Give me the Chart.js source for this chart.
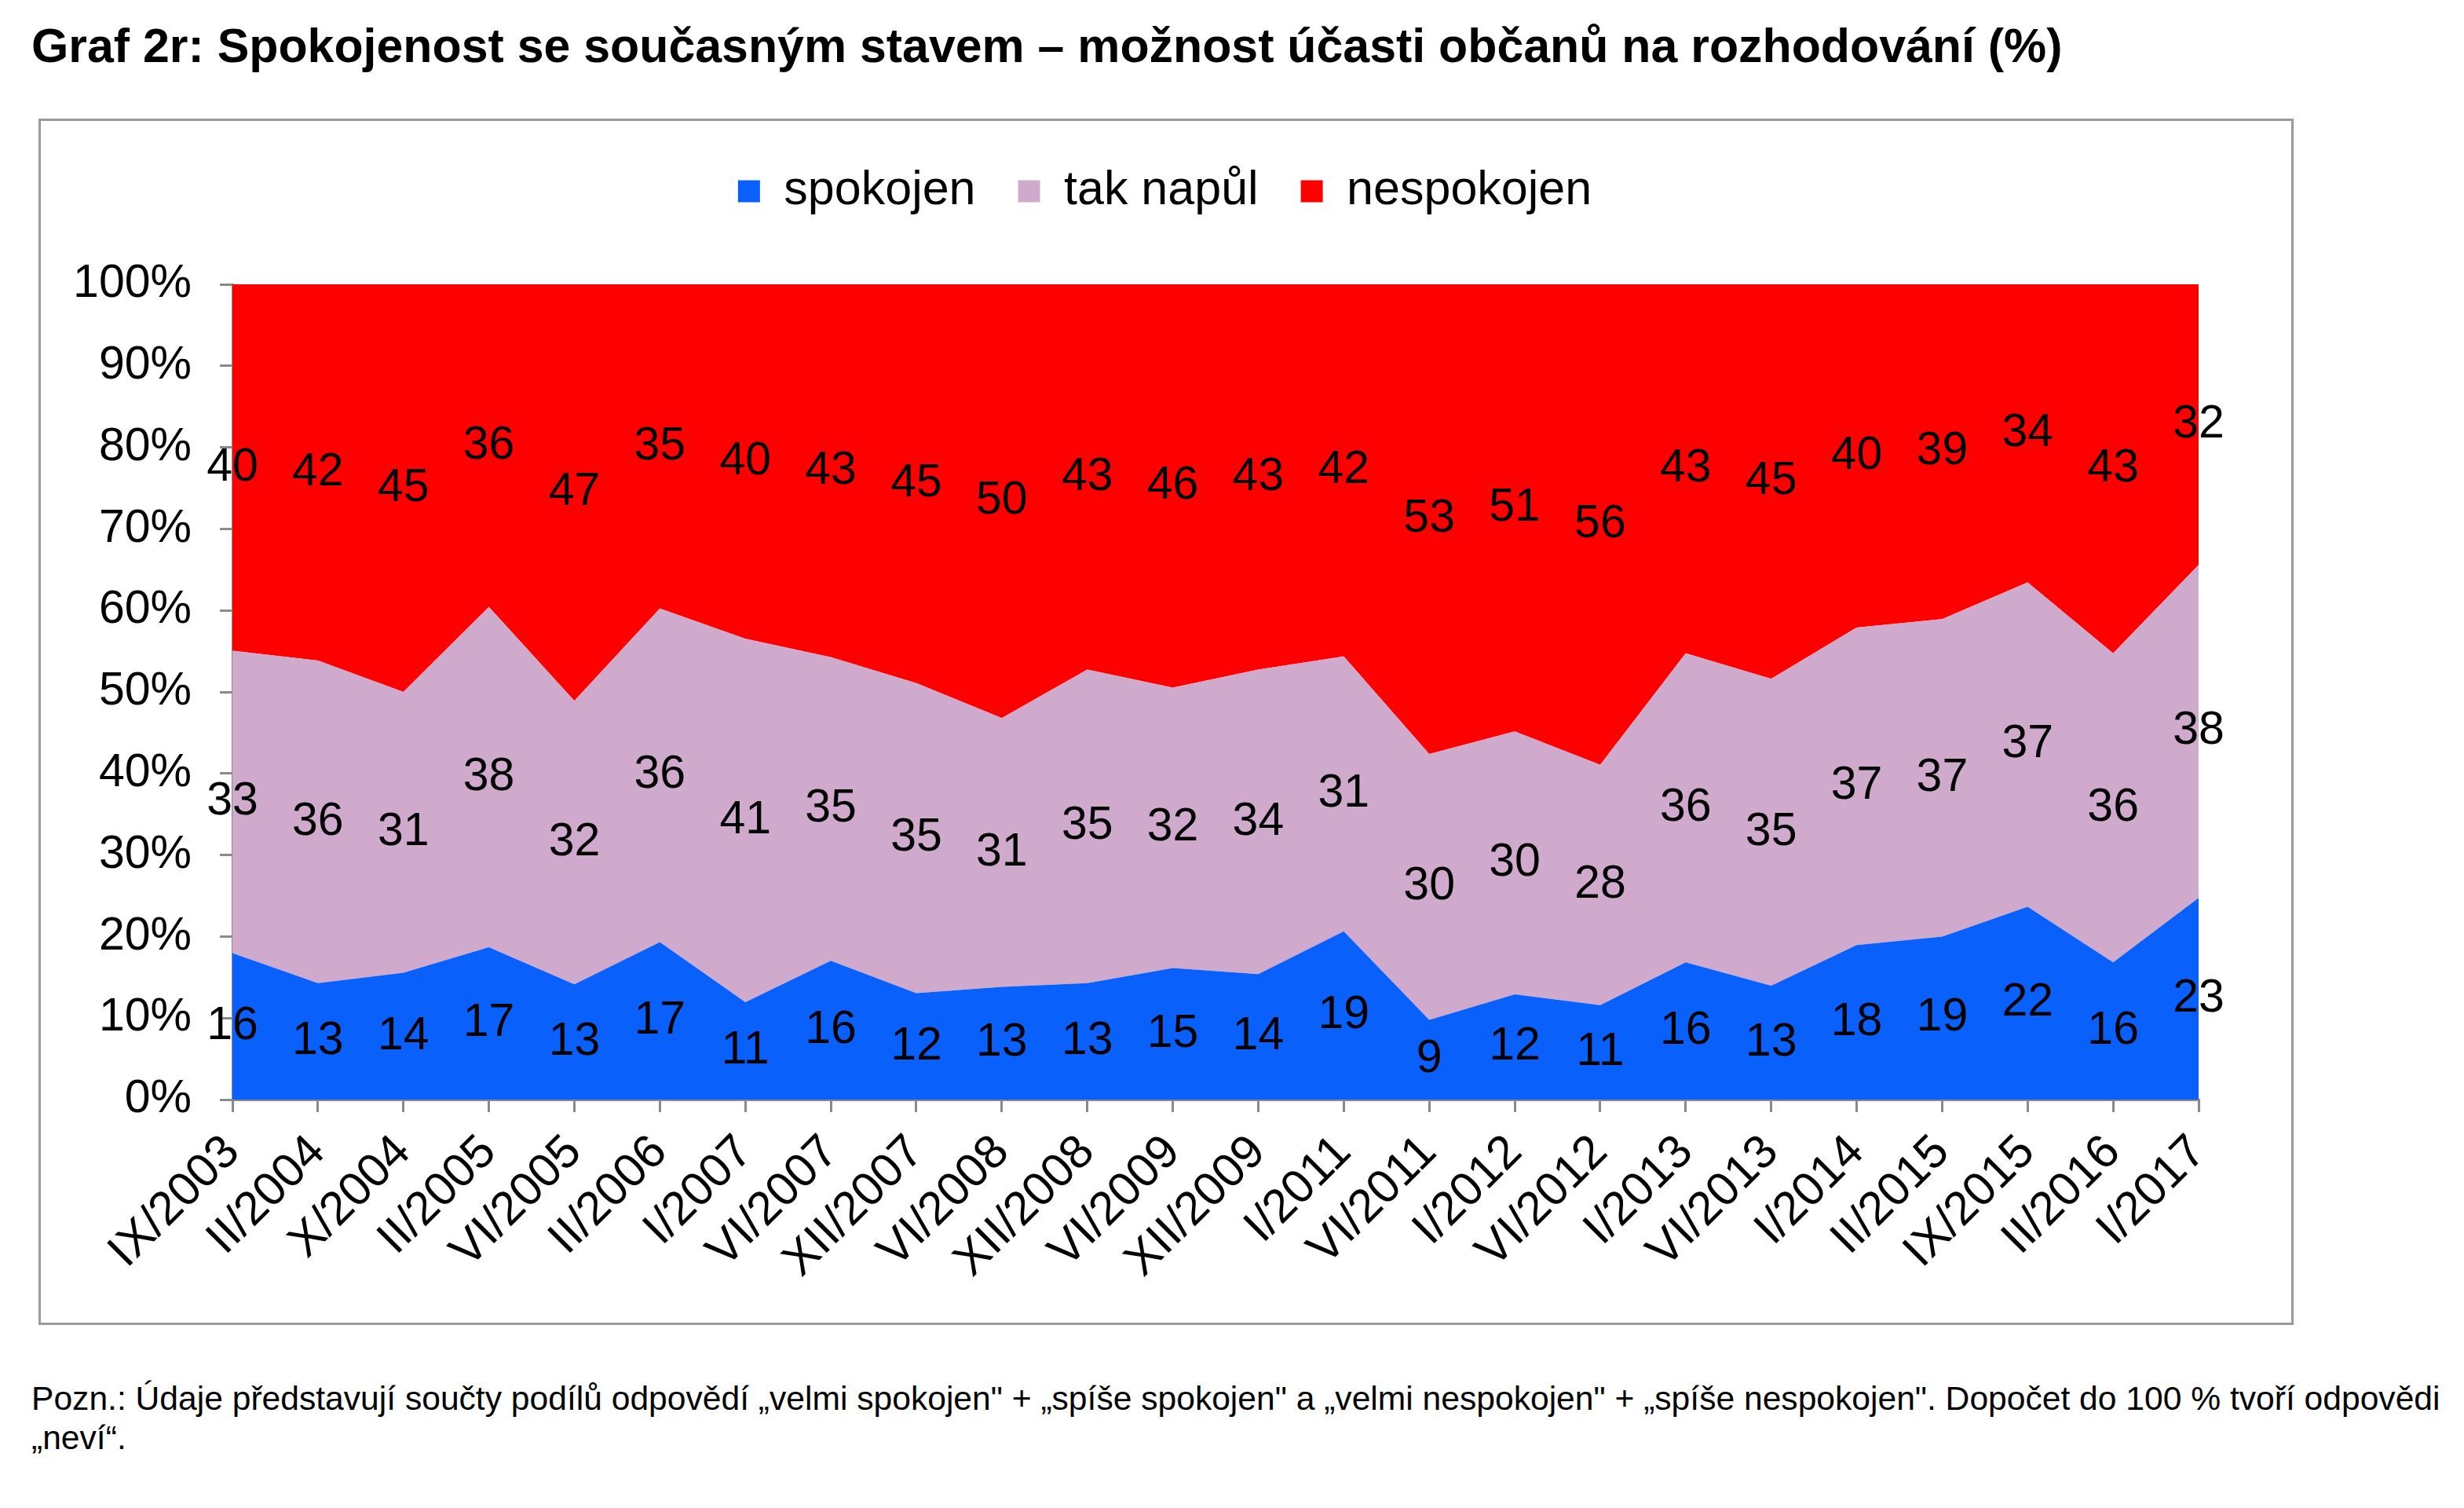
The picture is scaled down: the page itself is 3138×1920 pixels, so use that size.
<!DOCTYPE html>
<html>
<head>
<meta charset="utf-8">
<script src="https://cdn.jsdelivr.net/npm/chart.js@4.4.1/dist/chart.umd.min.js"></script>
<style>
html,body{margin:0;padding:0;background:#fff;width:3138px;height:1920px;overflow:hidden;font-family:"Liberation Sans",Arial,sans-serif;color:#000;}
#title{position:absolute;left:40px;top:28px;font-weight:bold;font-size:60.85px;line-height:60px;white-space:nowrap;}
#frame{position:absolute;left:49px;top:151px;width:2866px;height:1530px;border:3px solid #9a9a9a;}
#chartBox{position:absolute;left:52px;top:159px;width:2863px;height:1522px;}
#note{position:absolute;left:40px;top:1755px;font-size:42.6px;line-height:50px;white-space:nowrap;}
</style>
</head>
<body>
<div id="title">Graf 2r: Spokojenost se současným stavem – možnost účasti občanů na rozhodování (%)</div>
<div id="frame"></div>
<div id="chartBox"><canvas id="c" width="2863" height="1522"></canvas></div>
<div id="note">Pozn.: Údaje představují součty podílů odpovědí „velmi spokojen" + „spíše spokojen" a „velmi nespokojen" + „spíše nespokojen". Dopočet do 100 % tvoří odpovědi<br>„neví“.</div>
<script>
const categories = ['IX/2003','II/2004','X/2004','II/2005','VI/2005','II/2006','I/2007','VI/2007','XII/2007','VI/2008','XII/2008','VI/2009','XII/2009','I/2011','VI/2011','I/2012','VI/2012','I/2013','VI/2013','I/2014','II/2015','IX/2015','II/2016','I/2017'];
const spokojen   = [16,13,14,17,13,17,11,16,12,13,13,15,14,19, 9,12,11,16,13,18,19,22,16,23];
const takNapul   = [33,36,31,38,32,36,41,35,35,31,35,32,34,31,30,30,28,36,35,37,37,37,36,38];
const nespokojen = [40,42,45,36,47,35,40,43,45,50,43,46,43,42,53,51,56,43,45,40,39,34,43,32];
const seriesNames = ['spokojen','tak napůl','nespokojen'];
const seriesColors = ['#0a60fb','#cfaacd','#ff0000'];
const yTickValues = [0,10,20,30,40,50,60,70,80,90,100];

const FONT = '"Liberation Sans", Arial, sans-serif';
const rawSeries = [spokojen, takNapul, nespokojen];
const totals = categories.map((_, i) => rawSeries.reduce((s, a) => s + a[i], 0));
const shares = rawSeries.map(a => a.map((v, i) => v / totals[i] * 100));

const bandLabels = {
  id: 'bandLabels',
  afterDatasetsDraw(chart) {
    const ctx = chart.ctx, xs = chart.scales.x, ys = chart.scales.y;
    ctx.save();
    ctx.font = '59px ' + FONT;
    ctx.fillStyle = '#000';
    ctx.textAlign = 'center';
    ctx.textBaseline = 'middle';
    categories.forEach((c, i) => {
      let base = 0;
      rawSeries.forEach((arr, k) => {
        const mid = base + shares[k][i] / 2;
        base += shares[k][i];
        ctx.fillText(String(arr[i]), xs.getPixelForValue(i), ys.getPixelForValue(mid));
      });
    });
    ctx.restore();
  }
};

const legendSpacer = {
  id: 'legendSpacer',
  beforeLayout(chart) {
    const lg = chart.legend;
    if (lg && !lg._spaced) {
      const orig = lg.fit.bind(lg);
      lg.fit = function () { orig(); this.height += 78; };
      lg._spaced = true;
    }
  }
};

new Chart(document.getElementById('c'), {
  type: 'line',
  data: {
    labels: categories,
    datasets: rawSeries.map((arr, k) => ({
      label: seriesNames[k],
      data: shares[k],
      backgroundColor: seriesColors[k],
      borderColor: seriesColors[k],
      borderWidth: 0,
      pointRadius: 0,
      tension: 0,
      fill: k === 0 ? 'origin' : '-1'
    }))
  },
  options: {
    responsive: false,
    animation: false,
    events: [],
    layout: { padding: 0 },
    plugins: {
      legend: {
        position: 'top',
        labels: {
          boxWidth: 28, boxHeight: 28, padding: 54, color: '#000',
          font: { family: FONT, size: 61 }
        }
      },
      tooltip: { enabled: false }
    },
    scales: {
      x: {
        type: 'category',
        offset: false,
        grid: { drawOnChartArea: false, drawTicks: true, tickLength: 16, color: '#8a8a8a', lineWidth: 3 },
        border: { display: true, color: '#8a8a8a', width: 3 },
        ticks: { autoSkip: false, maxRotation: 45, minRotation: 45, color: '#000', padding: 16, font: { family: FONT, size: 60 } },
        afterFit(s) { s.height = 281; s.paddingRight = 115; }
      },
      y: {
        stacked: true,
        min: 0, max: 100,
        afterBuildTicks(s) { s.ticks = yTickValues.map(v => ({ value: v })); },
        grid: { drawOnChartArea: false, drawTicks: true, tickLength: 16, color: '#8a8a8a', lineWidth: 3 },
        border: { display: true, color: '#8a8a8a', width: 3 },
        ticks: { color: '#000', padding: 36, font: { family: FONT, size: 59 }, callback: v => v + '%' },
        afterFit(s) { s.width = 244; }
      }
    }
  },
  plugins: [bandLabels, legendSpacer]
});
</script>
</body>
</html>
